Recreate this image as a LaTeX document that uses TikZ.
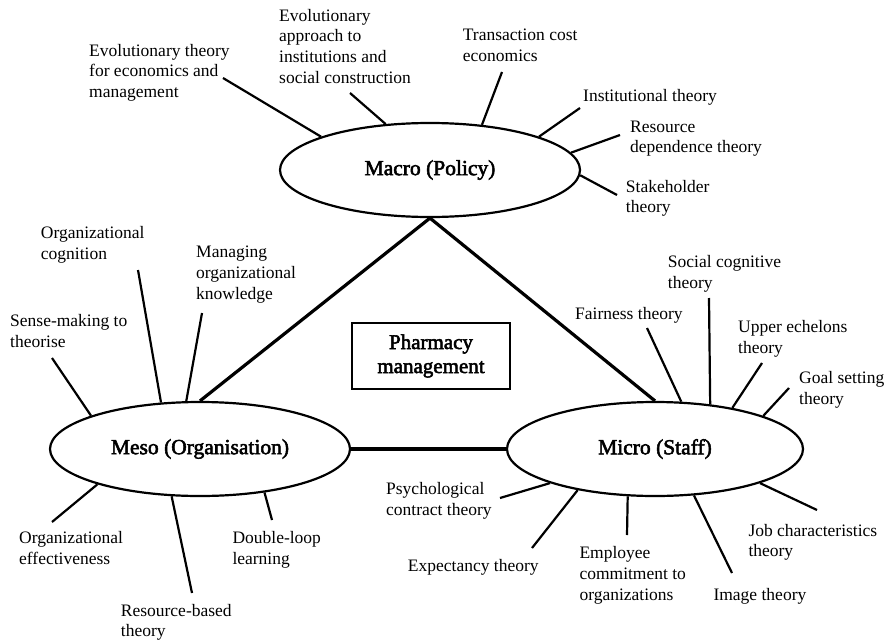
\documentclass[tikz,border=0pt]{standalone}
\usepackage{fontspec}
\setmainfont{Liberation Serif}
\newfontfamily\headfont[FakeBold=2.5]{Liberation Serif}
\usetikzlibrary{shapes.geometric}

\begin{document}
\begin{tikzpicture}[x=1pt,y=-1pt,
    lens/.style={draw,ellipse,line width=2.2pt,inner sep=0pt,
        minimum width=300pt,minimum height=94pt,
        font=\headfont\fontsize{21.5}{24}\selectfont},
    hub/.style={draw,line width=2pt,inner sep=0pt,align=center,
        minimum width=158pt,minimum height=66pt,
        font=\headfont\fontsize{21}{24}\selectfont},
    lbl/.style={anchor=base west,inner sep=0pt,align=left,
        font=\fontsize{17.5}{20.7}\selectfont},
    spoke/.style={line width=2.2pt},
    tie/.style={line width=3.2pt}]
    \useasboundingbox (0,0) rectangle (891,642);

    % the three levels and the centre
    \node[lens] (macro) at (430,170) {Macro (Policy)};
    \node[lens] (meso) at (200,449) {Meso (Organisation)};
    \node[lens,minimum width=296pt] (micro) at (655,449) {Micro (Staff)};
    \node[hub] (pharm) at (431,356) {Pharmacy\\management};

    \draw[tie] (macro.south) -- (meso.north);
    \draw[tie] (macro.south) -- (micro.north);
    \draw[tie,line width=3.6pt] (meso.east) -- (micro.west);

    % macro theories (placed by the baseline of their last line)
    \node[lbl] (evoecon) at (89,97.7) {Evolutionary theory\\for economics and\\management};
    \node[lbl] (evoinst) at (279,83.3) {Evolutionary\\approach to\\institutions and\\social construction};
    \node[lbl] (transcost) at (462.7,61.7) {Transaction cost\\economics};
    \node[lbl] (inst) at (583,101) {Institutional theory};
    \node[lbl] (resdep) at (630,152.7) {Resource\\dependence theory};
    \node[lbl] (stake) at (625.7,212.7) {Stakeholder\\theory};

    \coordinate (evoecon-e) at (223,78);
    \coordinate (evoinst-e) at (350,93);
    \coordinate (transcost-e) at (502,72);
    \coordinate (inst-e) at (580,108);
    \coordinate (resdep-e) at (620,135);
    \coordinate (stake-e) at (617,195);

    \draw[spoke] (macro.163) -- (evoecon-e);
    \draw[spoke] (macro.134) -- (evoinst-e);
    \draw[spoke] (macro.41) -- (transcost-e);
    \draw[spoke] (macro.17) -- (inst-e);
    \draw[spoke] (macro.7) -- (resdep-e);
    \draw[spoke] (macro.-2) -- (stake-e);

    % meso theories
    \node[lbl] (orgcog) at (40.7,259.3) {Organizational\\cognition};
    \node[lbl] (manknow) at (196,299.3) {Managing\\organizational\\knowledge};
    \node[lbl] (sense) at (10,347.3) {Sense-making to\\theorise};
    \node[lbl] (orgeff) at (19,564) {Organizational\\effectiveness};
    \node[lbl] (rbv) at (120.7,636.7) {Resource-based\\theory};
    \node[lbl] (dloop) at (232.3,564) {Double-loop\\learning};

    \coordinate (orgcog-e) at (138,270);
    \coordinate (manknow-e) at (202,313);
    \coordinate (sense-e) at (52,358);
    \coordinate (orgeff-e) at (52,522);
    \coordinate (rbv-e) at (192,593);
    \coordinate (dloop-e) at (272,520);

    \draw[spoke] (meso.130) -- (orgcog-e);
    \draw[spoke] (meso.106) -- (manknow-e);
    \draw[spoke] (meso.163) -- (sense-e);
    \draw[spoke] (meso.-161) -- (orgeff-e);
    \draw[spoke] (meso.-121) -- (rbv-e);
    \draw[spoke] (meso.-34) -- (dloop-e);

    % micro theories
    \node[lbl] (fair) at (575,319) {Fairness theory};
    \node[lbl] (socog) at (667.7,288.3) {Social cognitive\\theory};
    \node[lbl] (upper) at (738,353.3) {Upper echelons\\theory};
    \node[lbl] (goal) at (799,404.3) {Goal setting\\theory};
    \node[lbl] (psych) at (386,515) {Psychological\\contract theory};
    \node[lbl] (expect) at (407.7,571.7) {Expectancy theory};
    \node[lbl] (employ) at (579.3,600) {Employee\\commitment to\\organizations};
    \node[lbl] (image) at (713.3,600) {Image theory};
    \node[lbl] (jobchar) at (748.3,556.7) {Job characteristics\\theory};

    \coordinate (fair-e) at (647,328);
    \coordinate (socog-e) at (709,298);
    \coordinate (upper-e) at (762,363);
    \coordinate (goal-e) at (789,388);
    \coordinate (psych-e) at (500,498);
    \coordinate (expect-e) at (532,548);
    \coordinate (employ-e) at (627,535);
    \coordinate (image-e) at (732,573);
    \coordinate (jobchar-e) at (817,510);

    \draw[spoke] (micro.61) -- (fair-e);
    \draw[spoke] (micro.39) -- (socog-e);
    \draw[spoke] (micro.28) -- (upper-e);
    \draw[spoke] (micro.17) -- (goal-e);
    \draw[spoke] (micro.-162) -- (psych-e);
    \draw[spoke] (micro.-152) -- (expect-e);
    \draw[spoke] (micro.-120) -- (employ-e);
    \draw[spoke] (micro.-50) -- (image-e);
    \draw[spoke] (micro.-18) -- (jobchar-e);
\end{tikzpicture}
\end{document}
